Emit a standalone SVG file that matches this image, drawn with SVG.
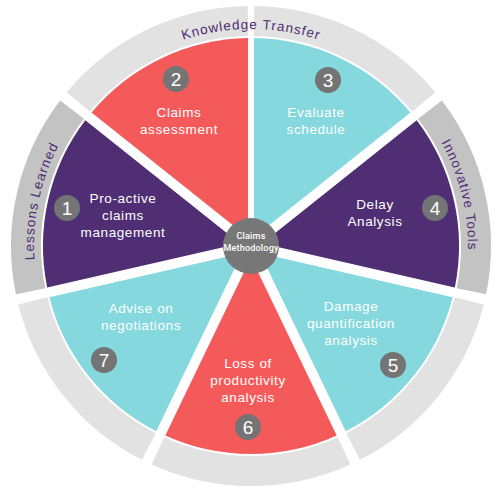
<svg xmlns="http://www.w3.org/2000/svg" xmlns:xlink="http://www.w3.org/1999/xlink" width="500" height="493" viewBox="0 0 500 493">
<style>
.purple{fill:#4f2e73}
.red{fill:#f55a5a}
.teal{fill:#84d8de}
.ringL{fill:none;stroke:#e2e2e2;stroke-width:30}
.ringD{fill:none;stroke:#c3c3c3;stroke-width:30}
.num{fill:#747474}
.numt{font-family:"Liberation Sans",Arial,sans-serif;font-size:19px;fill:#fff;text-anchor:middle}
.lbl{font-family:"Liberation Sans",Arial,sans-serif;font-size:13.5px;fill:#fff;text-anchor:middle;letter-spacing:0.6px}
.ringt{font-family:"Liberation Sans",Arial,sans-serif;font-size:13.5px;fill:#4f2e73;letter-spacing:1px;text-anchor:middle}
.ctr{font-family:Roboto,"Liberation Sans",Arial,sans-serif;font-size:9px;font-weight:500;fill:#fff;text-anchor:middle;letter-spacing:0.2px}
</style>
<defs>
<path id="arcKT" d="M47.09,171.78 A217,217 0 0 1 454.91,171.78"/>
<path id="arcLL" d="M63.07,354.5 A217,217 0 0 1 123.45,70.44"/>
<path id="arcIT" d="M370.3,65.6 A217,217 0 0 1 441.1,351.6"/>
</defs>
<rect width="500" height="493" fill="#fff"/>
<g id="ring">
<path class="ringD" d="M30.58,291.18 A225,225 0 0 1 72.07,109.65"/>
<path class="ringL" d="M78.23,101.86 A225,225 0 0 1 248.00,21.02"/>
<path class="ringL" d="M254.00,21.02 A225,225 0 0 1 423.77,101.86"/>
<path class="ringD" d="M429.93,109.65 A225,225 0 0 1 471.42,291.18"/>
<path class="ringL" d="M469.19,300.92 A225,225 0 0 1 353.10,446.50"/>
<path class="ringL" d="M344.10,450.85 A225,225 0 0 1 157.90,450.85"/>
<path class="ringL" d="M148.90,446.50 A225,225 0 0 1 32.81,300.92"/>
<text class="ringt"><textPath xlink:href="#arcKT" href="#arcKT" startOffset="50%">Knowledge Transfer</textPath></text>
<text class="ringt"><textPath xlink:href="#arcLL" href="#arcLL" startOffset="50%">Lessons Learned</textPath></text>
<text class="ringt"><textPath xlink:href="#arcIT" href="#arcIT" startOffset="50%">Innovative Tools</textPath></text>
</g>
<g id="seg1">
<path class="purple" d="M235.27,244.47 L47.15,287.40 A208,208 0 0 1 85.30,120.26 L236.15,240.56 Z"/>
<circle class="num" cx="67" cy="208" r="13"/>
<text class="numt" x="67" y="214.8">1</text>
<text class="lbl" x="123" y="203">Pro-active</text>
<text class="lbl" x="123" y="220">claims</text>
<text class="lbl" x="123" y="237">management</text>
</g>
<g id="seg2">
<path class="red" d="M242.39,232.74 L91.54,112.44 A208,208 0 0 1 248,38.02 L248,231 Z"/>
<circle class="num" cx="176" cy="79" r="13"/>
<text class="numt" x="176" y="85.8">2</text>
<text class="lbl" x="179" y="117">Claims</text>
<text class="lbl" x="179" y="134">assessment</text>
</g>
<g id="seg3">
<path class="teal" d="M254,231 L254,38.02 A208,208 0 0 1 410.46,112.44 L259.61,232.74 Z"/>
<circle class="num" cx="328" cy="80" r="13"/>
<text class="numt" x="328" y="86.8">3</text>
<text class="lbl" x="316" y="117">Evaluate</text>
<text class="lbl" x="316" y="134">schedule</text>
</g>
<g id="seg4">
<path class="purple" d="M265.85,240.56 L416.70,120.26 A208,208 0 0 1 454.85,287.40 L266.73,244.47 Z"/>
<circle class="num" cx="435" cy="208" r="13"/>
<text class="numt" x="435" y="214.8">4</text>
<text class="lbl" x="375" y="209">Delay</text>
<text class="lbl" x="375" y="226">Analysis</text>
</g>
<g id="seg5">
<path class="teal" d="M264.51,254.22 L452.63,297.15 A208,208 0 0 1 345.74,431.19 L262.02,257.34 Z"/>
<circle class="num" cx="393" cy="365" r="13"/>
<text class="numt" x="393" y="371.8">5</text>
<text class="lbl" x="351" y="311">Damage</text>
<text class="lbl" x="351" y="328">quantification</text>
<text class="lbl" x="351" y="345">analysis</text>
</g>
<g id="seg6">
<path class="red" d="M253.01,261.68 L336.73,435.53 A208,208 0 0 1 165.28,435.53 L249.00,261.68 Z"/>
<circle class="num" cx="248" cy="427" r="13"/>
<text class="numt" x="248" y="433.8">6</text>
<text class="lbl" x="248" y="368">Loss of</text>
<text class="lbl" x="248" y="385">productivity</text>
<text class="lbl" x="248" y="402">analysis</text>
</g>
<g id="seg7">
<path class="teal" d="M239.99,257.34 L156.27,431.19 A208,208 0 0 1 49.37,297.15 L237.49,254.22 Z"/>
<circle class="num" cx="104" cy="360" r="13"/>
<text class="numt" x="104" y="366.8">7</text>
<text class="lbl" x="141" y="313">Advise on</text>
<text class="lbl" x="141" y="330">negotiations</text>
</g>
<g id="center">
<circle cx="251" cy="246" r="28" fill="#777"/>
<text class="ctr" x="251" y="239">Claims</text>
<text class="ctr" x="251" y="251">Methodology</text>
</g>
</svg>
